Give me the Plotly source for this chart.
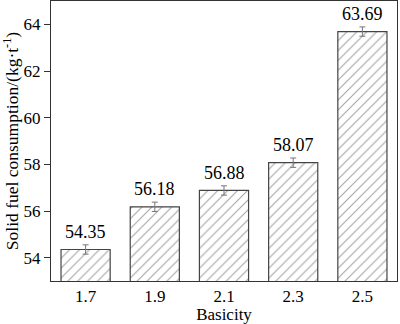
import plotly.graph_objects as go

basicity = ["1.7", "1.9", "2.1", "2.3", "2.5"]
consumption = [54.35, 56.18, 56.88, 58.07, 63.69]
errors = [0.2, 0.2, 0.2, 0.2, 0.2]
y_ticks = [54, 56, 58, 60, 62, 64]

FONT = "Liberation Serif"

fig = go.Figure()
fig.add_trace(go.Bar(
    x=basicity, y=consumption,
    marker=dict(color="white", line=dict(color="#444", width=1.2),
                pattern=dict(shape="/", fgcolor="#444", bgcolor="white", size=7, solidity=0.15)),
    error_y=dict(type="data", array=errors, color="#777", thickness=1, width=3),
))
for i, (yv, ev) in enumerate(zip(consumption, errors)):
    fig.add_annotation(x=i, y=yv + ev, text=f"{yv:.2f}", showarrow=False,
                       xref="x", yref="y", yanchor="bottom", yshift=1,
                       font=dict(family=FONT, size=18, color="black"))

fig.update_layout(
    width=400, height=324,
    margin=dict(l=51, r=3, t=1, b=43),
    paper_bgcolor="white", plot_bgcolor="white",
    bargap=0.29, showlegend=False,
    font=dict(family=FONT, size=17, color="black"),
)
fig.update_xaxes(type="category", showline=True, linecolor="#333", linewidth=1, mirror=True,
                 ticks="", title=dict(text="Basicity", standoff=2, font=dict(family=FONT, size=17)),
                 tickfont=dict(family=FONT, size=17))
fig.update_yaxes(range=[53, 65], tickvals=y_ticks, showline=True, linecolor="#333",
                 linewidth=1, mirror=True, ticks="outside", ticklen=6, tickcolor="#333",
                 showgrid=False, zeroline=False,
                 title=dict(text="Solid fuel consumption/(kg·t<sup>-1</sup>)", standoff=3,
                            font=dict(family=FONT, size=17.5)),
                 tickfont=dict(family=FONT, size=17))
fig.write_html("out.html")
